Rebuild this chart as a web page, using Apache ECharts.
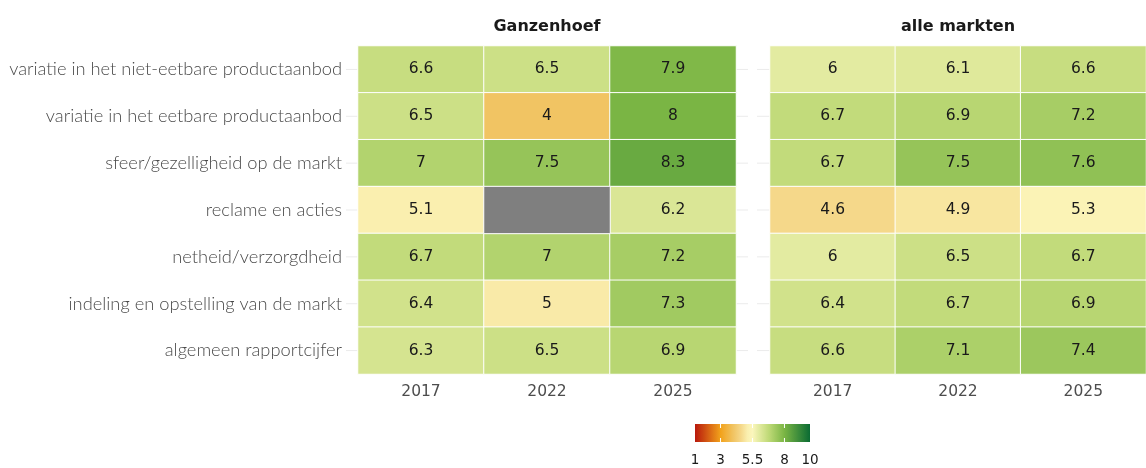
<!DOCTYPE html>
<html><head><meta charset="utf-8">
<script src="https://cdn.jsdelivr.net/npm/echarts@6/dist/echarts.min.js"></script>
<style>html,body{margin:0;padding:0;background:#fff}#c{width:1146px;height:468px}</style>
</head><body><div id="c"></div>
<script>
// ---- data ----
const categories = [
  'variatie in het niet-eetbare productaanbod',
  'variatie in het eetbare productaanbod',
  'sfeer/gezelligheid op de markt',
  'reclame en acties',
  'netheid/verzorgdheid',
  'indeling en opstelling van de markt',
  'algemeen rapportcijfer'
];
const years = ['2017', '2022', '2025'];
const panels = ['Ganzenhoef', 'alle markten'];
const ganzenhoef = [
  [6.6, 6.5, 7.9],
  [6.5, 4, 8],
  [7, 7.5, 8.3],
  [5.1, null, 6.2],
  [6.7, 7, 7.2],
  [6.4, 5, 7.3],
  [6.3, 6.5, 6.9]
];
const alleMarkten = [
  [6, 6.1, 6.6],
  [6.7, 6.9, 7.2],
  [6.7, 7.5, 7.6],
  [4.6, 4.9, 5.3],
  [6, 6.5, 6.7],
  [6.4, 6.7, 6.9],
  [6.6, 7.1, 7.4]
];
const legendTicks = [1, 3, 5.5, 8, 10];
// colour scale anchors (value -> colour)
const anchorValues = [1, 3, 4, 4.6, 5.1, 5.5, 6.75, 8, 10];
const anchorColors = ['#b8180c', '#f2a21b', '#f1c463', '#f5d88a', '#faefaf', '#fbf6bc', '#c0da78', '#7ab544', '#0a6b33'];

// ---- palette (evenly spaced stops from 1 to 10) ----
function hex2rgb(h){return [1,3,5].map(i=>parseInt(h.substr(i,2),16));}
function rgb2hex(c){return '#'+c.map(v=>Math.round(v).toString(16).padStart(2,'0')).join('');}
function colorAt(v){
  for(let i=0;i<anchorValues.length-1;i++){
    if(v<=anchorValues[i+1]){
      const t=(v-anchorValues[i])/(anchorValues[i+1]-anchorValues[i]);
      const a=hex2rgb(anchorColors[i]), b=hex2rgb(anchorColors[i+1]);
      return rgb2hex(a.map((x,k)=>x+(b[k]-x)*t));
    }
  }
  return anchorColors[anchorColors.length-1];
}
const vmin = legendTicks[0], vmax = legendTicks[legendTicks.length-1];
const NSTOP = 91;
const palette = [];
for(let s=0;s<NSTOP;s++){ palette.push(colorAt(vmin+(vmax-vmin)*s/(NSTOP-1))); }

function cells(m){const out=[];m.forEach((row,yi)=>row.forEach((v,xi)=>{if(v!==null)out.push([xi,yi,v]);}));return out;}
function naCells(m){const out=[];m.forEach((row,yi)=>row.forEach((v,xi)=>{if(v===null)out.push([xi,yi,0]);}));return out;}

const LABEL_FONT = 'Lato';
const NUM_FONT = 'DejaVu Sans';
const chart = echarts.init(document.getElementById('c'), null, {renderer:'canvas'});

const TOP = 46, H = 328;
const heatGrids = [{left:358, width:378}, {left:770, width:376}];
const lineGrids = [{left:346, width:402}, {left:757, width:402}];

const grid = [], xAxis = [], yAxis = [], series = [];
[0,1].forEach(p=>{
  grid.push({left:lineGrids[p].left, width:lineGrids[p].width, top:TOP, height:H});
  grid.push({left:heatGrids[p].left, width:heatGrids[p].width, top:TOP, height:H});
  const gi = p*2;
  xAxis.push({gridIndex:gi, type:'value', min:0, max:1, show:false});
  yAxis.push({gridIndex:gi, type:'category', data:categories, inverse:true, show:false});
  xAxis.push({gridIndex:gi+1, type:'category', data:years, axisLine:{show:false}, axisTick:{show:false}, splitLine:{show:false},
    axisLabel:{color:'#4d4d4d', fontFamily:NUM_FONT, fontSize:15.5, margin:10}});
  yAxis.push({gridIndex:gi+1, type:'category', data:categories, inverse:true, axisLine:{show:false}, axisTick:{show:false}, splitLine:{show:false},
    axisLabel:{show:p===0, color:'#4a4a4a', fontFamily:LABEL_FONT, fontWeight:300, fontSize:18.3, margin:16}});
});

const mats = [ganzenhoef, alleMarkten];
// horizontal grid lines at each category centre
[0,1].forEach(p=>{
  categories.forEach(c=>{
    series.push({type:'line', xAxisIndex:p*2, yAxisIndex:p*2, data:[[0,c],[1,c]], z:0, silent:true,
      symbol:'none', lineStyle:{color:'#ebebeb', width:1}});
  });
});
const heatIdx = [];
[0,1].forEach(p=>{
  heatIdx.push(series.length);
  series.push({type:'heatmap', name:panels[p], xAxisIndex:p*2+1, yAxisIndex:p*2+1, data:cells(mats[p]), z:2,
    itemStyle:{borderColor:'#ffffff', borderWidth:1},
    label:{show:true, color:'#1a1a1a', fontFamily:NUM_FONT, fontSize:15.5, formatter:(d)=>String(d.value[2])}});
  const na = naCells(mats[p]);
  if(na.length){
    series.push({type:'heatmap', xAxisIndex:p*2+1, yAxisIndex:p*2+1, data:na, z:2,
      itemStyle:{color:'#7f7f7f', borderColor:'#ffffff', borderWidth:1}, label:{show:false}});
  }
});

// legend graphic
const LX = 695, LY = 424, LW = 115, LH = 18;
const gradStops = palette.map((c,i)=>({offset:i/(palette.length-1), color:c}));
const graphic = [];
[0,1].forEach(p=>{
  graphic.push({type:'text', x:heatGrids[p].left+heatGrids[p].width/2, y:27,
    style:{text:panels[p], align:'center', verticalAlign:'middle', fill:'#1a1a1a', font:'bold 16px "'+NUM_FONT+'"'}});
});
graphic.push({type:'rect', shape:{x:LX, y:LY, width:LW, height:LH},
  style:{fill:new echarts.graphic.LinearGradient(0,0,1,0,gradStops)}});
legendTicks.forEach(t=>{
  const x = LX + (t-vmin)/(vmax-vmin)*LW;
  if(t>vmin && t<vmax){
    graphic.push({type:'line', shape:{x1:x,y1:LY,x2:x,y2:LY+4}, style:{stroke:'#ffffff', lineWidth:1}});
    graphic.push({type:'line', shape:{x1:x,y1:LY+LH-4,x2:x,y2:LY+LH}, style:{stroke:'#ffffff', lineWidth:1}});
  }
  graphic.push({type:'text', x:x, y:460, style:{text:String(t), align:'center', verticalAlign:'middle', fill:'#1a1a1a', font:'13.5px "'+NUM_FONT+'"'}});
});

chart.setOption({
  animation:false,
  backgroundColor:'#ffffff',
  grid, xAxis, yAxis,
  visualMap:{type:'continuous', show:false, min:vmin, max:vmax, seriesIndex:heatIdx, inRange:{color:palette}},
  series, graphic
});
</script></body></html>
